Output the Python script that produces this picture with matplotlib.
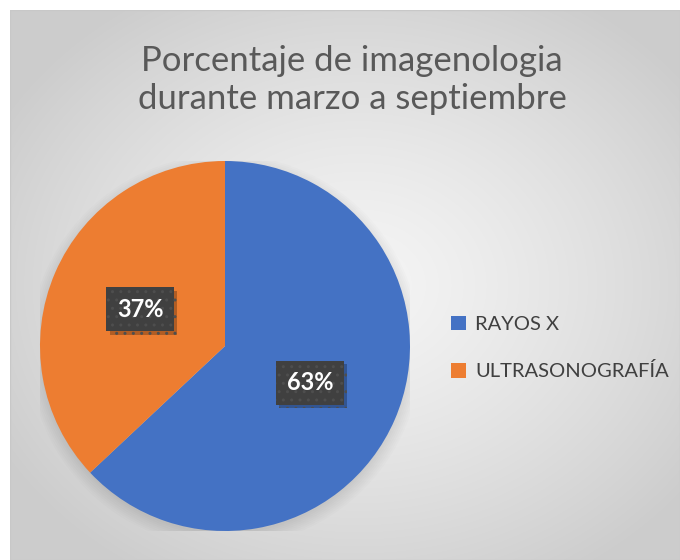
import numpy as np
import matplotlib
matplotlib.use("Agg")
import matplotlib.pyplot as plt
from matplotlib.patches import Circle, Rectangle
import matplotlib.patheffects as pe

title = "Porcentaje de imagenologia\ndurante marzo a septiembre"
categories = ["RAYOS X", "ULTRASONOGRAFÍA"]
values = [63, 37]
colors = ["#4472C4", "#ED7D31"]

plt.rcParams['font.family'] = ['Lato', 'DejaVu Sans']
plt.rcParams['hatch.linewidth'] = 1.0

W, H = 680, 560
fig = plt.figure(figsize=(W/100, H/100), dpi=100)
fig.patch.set_facecolor('white')

# background radial gradient
bg = fig.add_axes([10/W, 0, (W-10)/W, (H-10)/H], zorder=-10)
ny, nx = 550, 670
yy, xx = np.mgrid[0:ny, 0:nx]
cx, cy = nx*0.52, ny*0.5
d = np.sqrt(((xx-cx)/(nx*0.62))**2 + ((yy-cy)/(ny*0.62))**2)
d = np.clip(d, 0, 1)
v = 0.96 - (0.96-0.80)*d**1.3
img = np.dstack([v, v, v])
bg.imshow(img, aspect='auto', extent=[0, 1, 0, 1], interpolation='bilinear')
bg.set_xlim(0, 1); bg.set_ylim(0, 1)
bg.axis('off')
bg.add_patch(Rectangle((0, 0), 1, 1, fill=False, edgecolor='#c8c8c8', lw=1.0, transform=bg.transAxes))

fig.text(352/W, 1-80/H, title, ha='center', va='center', fontsize=25,
         color='#595959', linespacing=1.25)

cxp, cyp, r = 225, 346, 185
ax = fig.add_axes([(cxp-r)/W, (H-cyp-r)/H, 2*r/W, 2*r/H])

# soft shadow
for i in range(8):
    ax.add_patch(Circle((0.0, -0.025), 0.99 + i*0.01, color='#000000', alpha=0.012, lw=0, zorder=0))

wedges, texts, autotexts = ax.pie(values, colors=colors, startangle=90, counterclock=False,
                                  autopct='%d%%', pctdistance=0.5, radius=1,
                                  wedgeprops=dict(linewidth=0),
                                  textprops=dict(color='white', fontsize=17, fontweight='bold'))
ax.set_xlim(-1, 1); ax.set_ylim(-1, 1)
ax.set_aspect('equal')
ax.axis('off')
for w in wedges:
    w.set_zorder(2)
for t in autotexts:
    t.set_zorder(5)
    t.set_bbox(dict(boxstyle='square,pad=0.45', facecolor='#404040', edgecolor='#4e4e4e',
                    hatch='..', linewidth=0,
                    path_effects=[pe.SimplePatchShadow(offset=(2.5, -2.5), shadow_rgbFace='black', alpha=0.25),
                                  pe.Normal()]))

leg = fig.legend(wedges, categories, loc='center left', bbox_to_anchor=(451/W, 1-348/H),
                 frameon=False, fontsize=14.5, handlelength=0.75, handleheight=0.75,
                 labelspacing=1.45, handletextpad=0.45, labelcolor='#404040',
                 borderpad=0, borderaxespad=0)

fig.savefig("out.png", dpi=100)
